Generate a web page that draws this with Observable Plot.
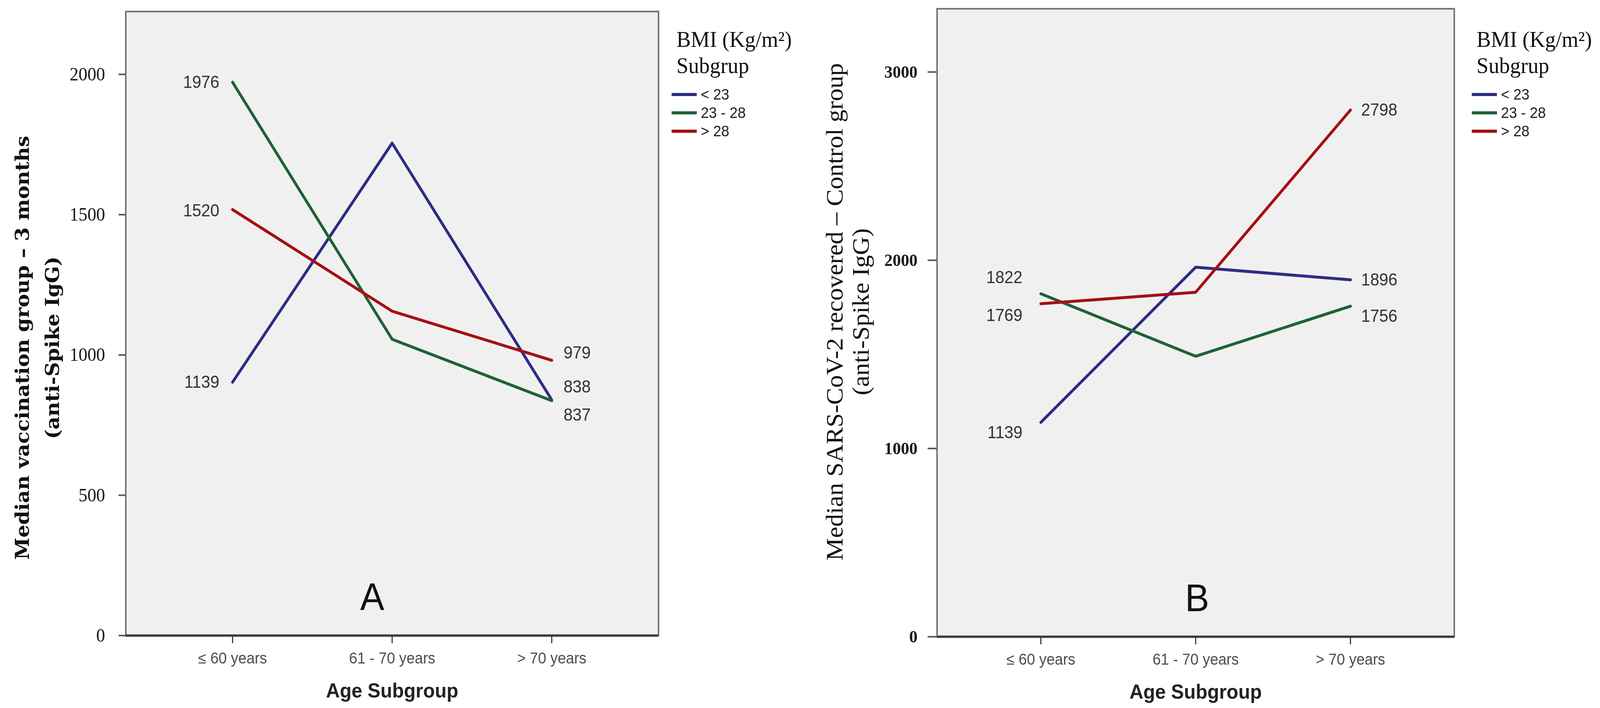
<!DOCTYPE html>
<html>
<head>
<meta charset="utf-8">
<script src="https://cdn.jsdelivr.net/npm/d3@7"></script>
<script src="https://cdn.jsdelivr.net/npm/@observablehq/plot@0.6"></script>
<style>
  html, body { margin: 0; background: #fff; overflow: hidden; }
  #page { position: relative; width: 4331px; height: 1813px; overflow: hidden; background: #fff; transform-origin: 0 0; }
  .panel { position: absolute; top: 0; }
  .legend { position: absolute; top: 67px; font-family: "Liberation Sans", Arial, sans-serif; color: #222; }
  .legend .title { font-family: "Liberation Serif", "Times New Roman", serif; font-size: 58px; line-height: 67px; color: #111; margin-left: 13px; }
  .legend .rows { margin-top: 17px; }
  .legend .row { display: flex; align-items: center; height: 47px; font-size: 39px; line-height: 47px; }
  .legend .swatch { width: 68px; height: 8px; margin-right: 11px; }
</style>
</head>
<body>
<div id="page">
  <div id="chartA" class="panel" style="left:0px"></div>
  <div id="legendA" class="legend" style="left:1818px"></div>
  <div id="chartB" class="panel" style="left:2165px"></div>
  <div id="legendB" class="legend" style="left:3984px"></div>
</div>
<script>
const ageGroups = ["≤ 60 years", "61 - 70 years", "> 70 years"];
const bmiGroups = ["< 23", "23 - 28", "> 28"];
const bmiColors = ["#2d2d84", "#1e6236", "#a50f15"];

// panel A: vaccination group, 3 months
const vaccLow = [903, 1755, 840];
const vaccMid = [1972, 1056, 837];
const vaccHigh = [1518, 1156, 981];
const vaccStartLabels = ["1139", "1976", "1520"];
const vaccEndLabels = ["838", "837", "979"];
const vaccTicks = [0, 500, 1000, 1500, 2000];

// panel B: SARS-CoV-2 recovered, control group
const recovLow = [1139, 1963, 1896];
const recovMid = [1822, 1490, 1756];
const recovHigh = [1769, 1830, 2798];
const recovStartLabels = ["1139", "1822", "1769"];
const recovEndLabels = ["1896", "1756", "2798"];
const recovTicks = [0, 1000, 2000, 3000];

const sans = "Liberation Sans, Arial, sans-serif";
const serif = "Liberation Serif, Times New Roman, serif";

// the window is narrower than the picture, squeeze the layout to fit it
const page = document.getElementById("page");
page.style.transform = `scale(${Math.min(1, window.innerWidth / 4331)}, 1)`;

function panel(cfg) {
  const series = [cfg.low, cfg.mid, cfg.high];
  const rows = bmiGroups.flatMap((bmi, i) => ageGroups.map((age, j) => ({age, bmi, value: series[i][j]})));
  const first = i => ({age: ageGroups[0], bmi: bmiGroups[i], value: series[i][0], label: cfg.startLabels[i]});
  const last = i => ({age: ageGroups[2], bmi: bmiGroups[i], value: series[i][2], label: cfg.endLabels[i]});
  const labelFont = {fontFamily: sans, fontSize: 44, fill: "#333"};

  return Plot.plot({
    width: cfg.width,
    height: 1813,
    marginLeft: cfg.marginLeft,
    marginRight: 18,
    marginTop: cfg.marginTop,
    marginBottom: cfg.marginBottom,
    x: {type: "point", domain: ageGroups, padding: 0.667, label: null},
    y: {domain: [0, cfg.yTop], label: null},
    color: {domain: bmiGroups, range: bmiColors},
    style: {background: "transparent", overflow: "visible"},
    marks: [
      Plot.frame({fill: "#f0f0f0", stroke: null}),
      Plot.axisY(cfg.ticks, {
        tickSize: cfg.tickSize, tickPadding: cfg.tickPadding, tickFormat: d => String(d),
        fontFamily: serif, fontSize: cfg.tickFont, fontWeight: cfg.tickWeight,
        fill: "#1a1a1a", stroke: "#555", strokeWidth: 4, label: null
      }),
      Plot.axisX({
        tickSize: 20, tickPadding: 23, fontFamily: sans, fontSize: 40,
        fill: "#505050", stroke: "#333", strokeWidth: 3, label: null
      }),
      Plot.line(rows, {x: "age", y: "value", z: "bmi", stroke: "bmi", strokeWidth: 7.5}),
      ...bmiGroups.map((b, i) => Plot.text([first(i)], {
        x: "age", y: "value", text: "label", textAnchor: "end",
        dx: cfg.startDx, dy: cfg.startDy[i], ...labelFont
      })),
      ...bmiGroups.map((b, i) => Plot.text([last(i)], {
        x: "age", y: "value", text: "label", textAnchor: "start",
        dx: cfg.endDx, dy: cfg.endDy[i], ...labelFont
      })),
      Plot.frame({stroke: "#6e6e6e", strokeWidth: 4}),
      Plot.ruleY([0], {stroke: "#3c3c3c", strokeWidth: 6}),
      Plot.text([cfg.letter], {
        text: d => d, frameAnchor: "bottom", lineAnchor: "middle", textAnchor: "middle",
        dx: cfg.letterDx, dy: -97, fontFamily: sans, fontSize: 98, fill: "#111"
      }),
      Plot.text(["Age Subgroup"], {
        text: d => d, frameAnchor: "bottom", lineAnchor: "middle", textAnchor: "middle", dy: 142,
        fontFamily: sans, fontSize: 52, fontWeight: "bold", fill: "#222"
      }),
      Plot.text([cfg.yTitle], {
        text: d => d, frameAnchor: "left", lineAnchor: "middle", textAnchor: "middle", rotate: -90,
        dx: cfg.titleDx, dy: cfg.titleDy,
        fontFamily: cfg.titleFont, fontSize: cfg.titleSize, fontWeight: cfg.titleWeight,
        lineHeight: cfg.titleLineHeight, fill: "#111"
      })
    ]
  });
}

function legend(el) {
  const box = document.getElementById(el);
  box.innerHTML = `<div class="title">BMI (Kg/m²)<br>Subgrup</div>` +
    `<div class="rows">` +
    bmiGroups.map((g, i) => `<div class="row"><span class="swatch" style="background:${bmiColors[i]}"></span><span>${g.replace("<", "&lt;").replace(">", "&gt;")}</span></div>`).join("") +
    `</div>`;
}

const chartA = panel({
  low: vaccLow, mid: vaccMid, high: vaccHigh,
  startLabels: vaccStartLabels, endLabels: vaccEndLabels,
  ticks: vaccTicks, yTop: 2224,
  width: 1800, marginLeft: 340, marginTop: 29, marginBottom: 186,
  tickSize: 19, tickPadding: 37, tickFont: 48, tickWeight: "normal",
  startDx: -36, startDy: [0, 0, 3], endDx: 32, endDy: [-33, 37, -19],
  letter: "A", letterDx: -54,
  yTitle: "Median vaccination group – 3 months\n(anti-Spike IgG)",
  titleFont: "DejaVu Serif, serif", titleSize: 51.5, titleWeight: "bold", titleLineHeight: 1.58,
  titleDx: -248, titleDy: 62
});

const chartB = panel({
  low: recovLow, mid: recovMid, high: recovHigh,
  startLabels: recovStartLabels, endLabels: recovEndLabels,
  ticks: recovTicks, yTop: 3336,
  width: 1789, marginLeft: 371, marginTop: 22, marginBottom: 183,
  tickSize: 25, tickPadding: 28, tickFont: 45, tickWeight: "bold",
  startDx: -50, startDy: [26, -41, 30], endDx: 29, endDy: [0, 26, 0],
  letter: "B", letterDx: 4,
  yTitle: "Median SARS-CoV-2 recovered – Control group\n(anti-Spike IgG)",
  titleFont: serif, titleSize: 65, titleWeight: "normal", titleLineHeight: 1.1,
  titleDx: -243, titleDy: -28
});

d3.select("#chartA").append(() => chartA);
d3.select("#chartB").append(() => chartB);
legend("legendA");
legend("legendB");
</script>
</body>
</html>
